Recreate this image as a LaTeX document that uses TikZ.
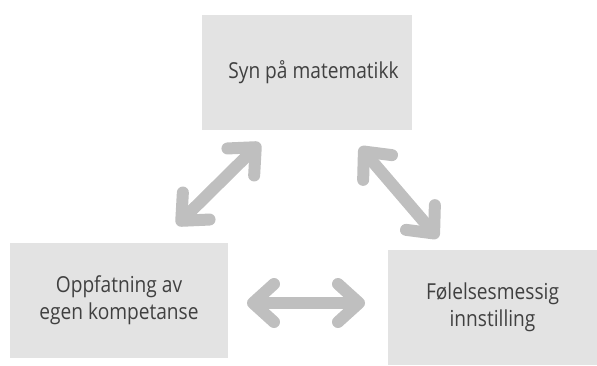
\documentclass[tikz,border=0pt]{standalone}
\usepackage{fontspec}
\setmainfont{Open Sans}[FakeStretch=0.87]
\usepackage{xcolor}
\usepackage{tikz}
\usetikzlibrary{arrows.meta}

\definecolor{boxgray}{HTML}{E3E3E3}
\definecolor{arrowgray}{HTML}{BFBFBF}
\definecolor{textgray}{HTML}{404040}

\begin{document}
\begin{tikzpicture}[
    x=1pt, y=-1pt,
    >={Straight Barb[length=21pt, width=38pt, round]},
    font=\fontsize{22}{26.6}\selectfont,
    % Stil for boksene
    box/.style={rectangle, fill=boxgray, draw=none, text=textgray, align=center, inner sep=0pt},
    dblarrow/.style={draw=arrowgray, line width=12pt, line cap=round, <->}
]
    \useasboundingbox (0,0) rectangle (597,365);

    % --- 1. BOKSENE ---
    \node[box, minimum width=210pt, minimum height=115pt] (syn) at (307,72.5) {\hspace*{13pt}Syn på matematikk};

    \node[box, minimum width=218pt, minimum height=115pt] (oppfatning) at (119,300.5) {Oppfatning av\\egen kompetanse};

    \node[box, minimum width=209pt, minimum height=115pt] (folelse) at (492.5,307.5) {Følelsesmessig\\innstilling};

    % --- 2. PILENE ---
    \coordinate (v1) at (177,225);
    \coordinate (v2) at (260,143);
    \coordinate (h1) at (247,303);
    \coordinate (h2) at (365,303);
    \coordinate (r1) at (360,147);
    \coordinate (r2) at (438,238);

    \draw[dblarrow] (v1) -- (v2);
    \draw[dblarrow] (h1) -- (h2);
    \draw[dblarrow] (r1) -- (r2);

\end{tikzpicture}
\end{document}
